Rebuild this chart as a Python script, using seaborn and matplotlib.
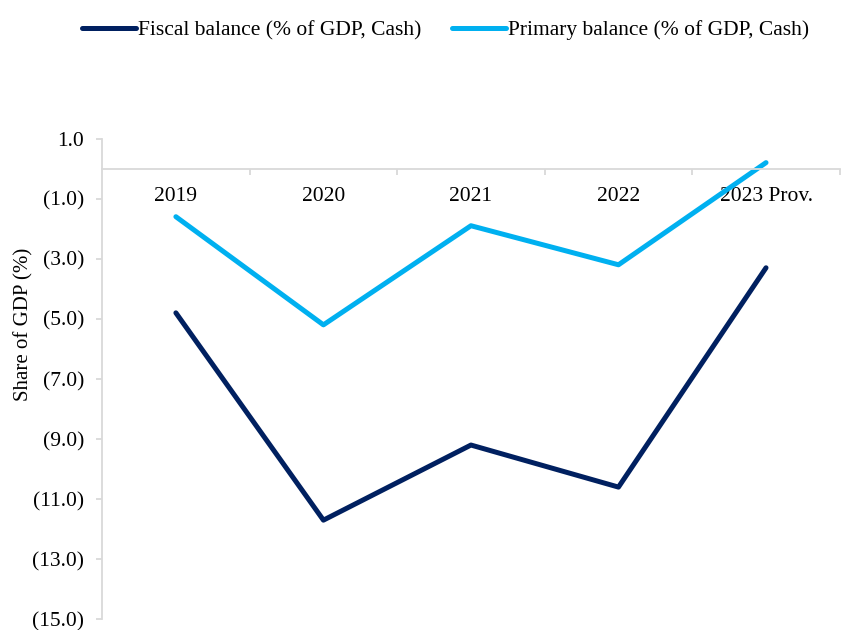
import numpy as np
import pandas as pd
import matplotlib
matplotlib.use("Agg")
import matplotlib.pyplot as plt
import seaborn as sns

years = ["2019", "2020", "2021", "2022", "2023 Prov."]
fiscal = [-4.8, -11.7, -9.2, -10.6, -3.3]
primary = [-1.6, -5.2, -1.9, -3.2, 0.2]
series_names = ["Fiscal balance (% of GDP, Cash)", "Primary balance (% of GDP, Cash)"]
colors = ["#002060", "#00B0F0"]

df = pd.DataFrame({
    "pos": list(range(len(years))) * 2,
    "value": fiscal + primary,
    "series": [series_names[0]] * len(years) + [series_names[1]] * len(years),
})

sns.set_style("white")
plt.rcParams["font.family"] = ["Liberation Serif", "DejaVu Serif"]
plt.rcParams["text.color"] = "black"
plt.rcParams["axes.labelcolor"] = "black"
plt.rcParams["xtick.labelcolor"] = "black"
plt.rcParams["ytick.labelcolor"] = "black"

fig = plt.figure(figsize=(8.44, 6.3), dpi=100)
ax = fig.add_axes([0.121, 0.017, 0.874, 0.763])

sns.lineplot(data=df, x="pos", y="value", hue="series", palette=colors,
             linewidth=3.6, ax=ax, legend=False, sort=False)

ax.set_xlim(-0.5, 4.5)
ax.set_ylim(-15, 1)
yt = np.arange(-15, 2, 2)
ax.set_yticks(yt)
ax.set_yticklabels([f"{v:.1f}" if v >= 0 else f"({abs(v):.1f})" for v in yt])

for s in ["top", "right"]:
    ax.spines[s].set_visible(False)
ax.spines["left"].set_color("#d9d9d9")
ax.spines["left"].set_linewidth(1.3)
ax.spines["bottom"].set_position(("data", 0))
ax.spines["bottom"].set_color("#d9d9d9")
ax.spines["bottom"].set_linewidth(1.3)

ax.set_xticks(range(len(years)))
ax.set_xticklabels(years)
ax.set_xticks(np.arange(0.5, 5, 1), minor=True)
ax.tick_params(axis="x", which="major", length=0, pad=13, labelsize=15.5, bottom=True)
ax.tick_params(axis="x", which="minor", length=4, width=1.3, color="#d9d9d9",
               direction="out", bottom=True)
ax.tick_params(axis="y", length=4, width=1.3, color="#d9d9d9", direction="out",
               pad=9, labelsize=15.5, left=True)

ax.set_xlabel("")
ax.set_ylabel("Share of GDP (%)", fontsize=15)
ax.yaxis.set_label_coords(-0.093, 0.613)

handles = [plt.Line2D([], [], color=c, linewidth=3.6) for c in colors]
fig.legend(handles, series_names, loc="center", bbox_to_anchor=(0.528, 0.952), ncol=2,
           frameon=False, fontsize=15.5, handlelength=2.5, handletextpad=0.1,
           columnspacing=1.4)

fig.savefig("out.png", dpi=100)
